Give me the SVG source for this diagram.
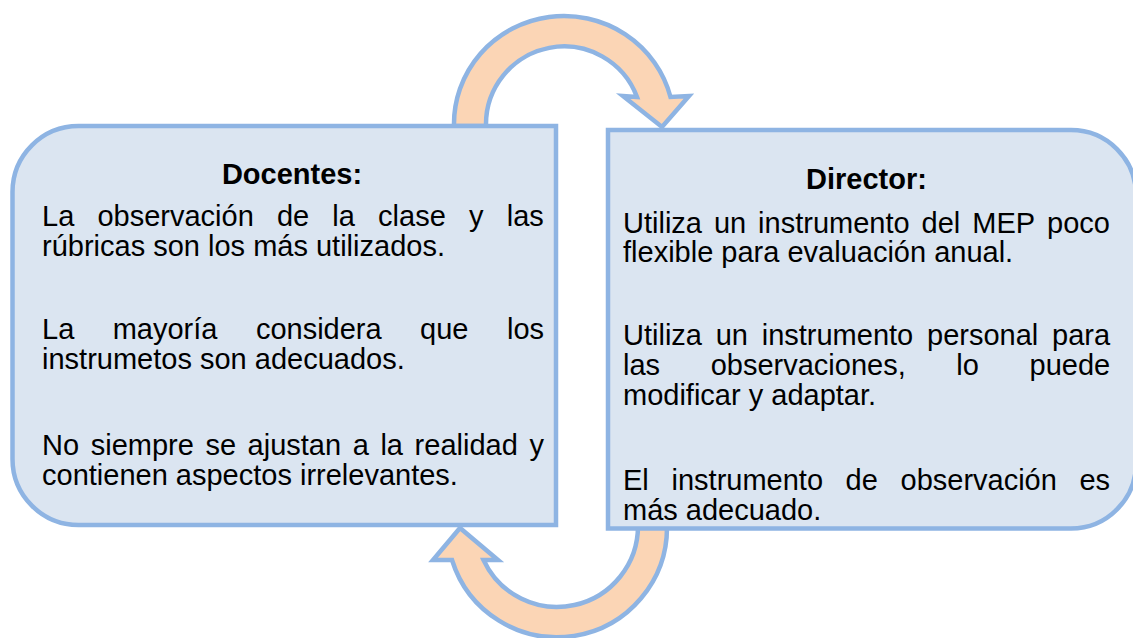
<svg xmlns="http://www.w3.org/2000/svg" width="1133" height="638" viewBox="0 0 1133 638">
<style>
.box{fill:#DBE5F1;stroke:#8EB4E3;stroke-width:4.5}
.arr{fill:#FBD5B5;stroke:#8EB4E3;stroke-width:4.5;stroke-linejoin:miter}
text{font-family:"Liberation Sans",Arial,sans-serif;font-size:29px;fill:#000}
.h{font-weight:bold}
</style>
<rect width="1133" height="638" fill="#fff"/>
<g id="connectors">
<path class="arr" d="M 454 126 A 110 108 0 0 1 670.5 97 L 689 96 L 662 127 L 623 96 L 637 97 A 78 78 0 0 0 486 126 Z"/>
<path class="arr" d="M 667 526 A 110 110 0 0 1 452 560 L 433 560 L 460 528 L 498 560 L 483.5 560 A 81 81 0 0 0 638 526 Z"/>
</g>
<g id="docentes">
<path class="box" d="M 78.5 126 L 556 126 L 556 525 L 78.5 525 A 66 66 0 0 1 12.5 459 L 12.5 192 A 66 66 0 0 1 78.5 126 Z"/>
<text class="h" x="292" y="184" text-anchor="middle">Docentes:</text>
<text y="226"><tspan x="42">La</tspan><tspan x="97.4">observación</tspan><tspan x="276.9">de</tspan><tspan x="332.3">la</tspan><tspan x="378.1">clase</tspan><tspan x="469">y</tspan><tspan x="506.7">las</tspan></text>
<text x="42" y="256">rúbricas son los más utilizados.</text>
<text y="339"><tspan x="42">La</tspan><tspan x="112.7">mayoría</tspan><tspan x="255.9">considera</tspan><tspan x="420.1">que</tspan><tspan x="507">los</tspan></text>
<text x="42" y="369">instrumetos son adecuados.</text>
<text y="455"><tspan x="42">No</tspan><tspan x="90.7">siempre</tspan><tspan x="205.4">se</tspan><tspan x="247.6">ajustan</tspan><tspan x="352.7">a</tspan><tspan x="380.4">la</tspan><tspan x="414.6">realidad</tspan><tspan x="529.4">y</tspan></text>
<text x="42" y="485">contienen aspectos irrelevantes.</text>
</g>
<g id="director">
<path class="box" d="M 608 130 L 1071 130 A 65 65 0 0 1 1136 195 L 1136 463.5 A 65 65 0 0 1 1071 528.5 L 608 528.5 Z"/>
<text class="h" x="866.5" y="189" text-anchor="middle">Director:</text>
<text y="232.5"><tspan x="623">Utiliza</tspan><tspan x="713.9">un</tspan><tspan x="758.1">instrumento</tspan><tspan x="921.6">del</tspan><tspan x="972.3">MEP</tspan><tspan x="1047.1">poco</tspan></text>
<text x="623" y="262">flexible para evaluación anual.</text>
<text y="345"><tspan x="623">Utiliza</tspan><tspan x="715.7">un</tspan><tspan x="761.7">instrumento</tspan><tspan x="927">personal</tspan><tspan x="1052">para</tspan></text>
<text y="375"><tspan x="623">las</tspan><tspan x="710.7">observaciones,</tspan><tspan x="956.3">lo</tspan><tspan x="1029.5">puede</tspan></text>
<text x="623" y="405">modificar y adaptar.</text>
<text y="490"><tspan x="623">El</tspan><tspan x="671.5">instrumento</tspan><tspan x="845.6">de</tspan><tspan x="900.5">observación</tspan><tspan x="1079.4">es</tspan></text>
<text x="623" y="520">más adecuado.</text>
</g>
</svg>
